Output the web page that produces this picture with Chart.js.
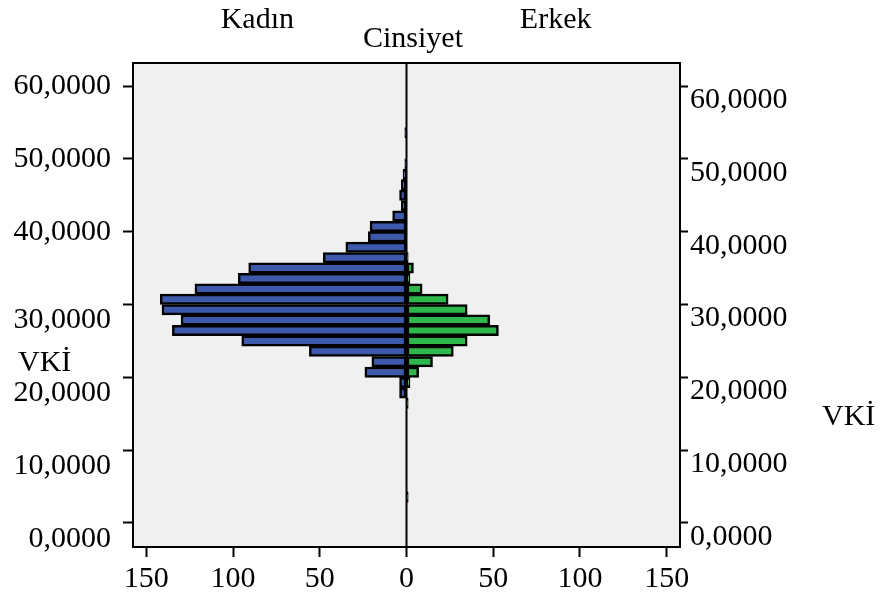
<!DOCTYPE html>
<html>
<head>
<meta charset="utf-8">
<script src="https://cdn.jsdelivr.net/npm/chart.js@4.4.0/dist/chart.umd.min.js"></script>
<style>
  body { margin: 0; background: #fff; }
</style>
</head>
<body>
<canvas id="pyramid" width="880" height="595"></canvas>
<script>
// VKİ bin centres (bin width 10/7)
const binCenters = [3.57, 5.00, 6.43, 7.86, 9.29, 10.71, 12.14, 13.57, 15.00, 16.43,
  17.86, 19.29, 20.71, 22.14, 23.57, 25.00, 26.43, 27.86, 29.29, 30.71,
  32.14, 33.57, 35.00, 36.43, 37.86, 39.29, 40.71, 42.14, 43.57, 45.00,
  46.43, 47.86, 49.29, 50.71, 52.14, 53.57];

const kadin = [0, 0, 0, 0, 0, 0, 0, 0, 0, 0,
  4, 4, 24, 20, 56, 95, 135, 130, 141, 142,
  122, 97, 91, 48, 35, 22, 21, 8, 3, 4,
  3, 2, 1, 0, 0, 1];

const erkek = [1, 0, 0, 0, 0, 0, 0, 0, 0, 1,
  0, 2, 7, 15, 27, 35, 53, 48, 35, 24,
  9, 2, 4, 1, 0, 0, 0, 0, 0, 0,
  0, 0, 0, 0, 0, 0];

const xTickValues = [-150, -100, -50, 0, 50, 100, 150];
const yTickValues = [0, 10, 20, 30, 40, 50, 60];

const blue = '#3d59ab';
const green = '#2eb84c';
const serif = 'Liberation Serif';

Chart.defaults.font.family = serif;
Chart.defaults.color = '#000';

function vkiLabel(v) {
  return v.toFixed(4).replace('.', ',');
}

const frame = {
  id: 'frame',
  beforeDraw(chart) {
    const { ctx, chartArea: a } = chart;
    ctx.save();
    ctx.fillStyle = '#f0f0f0';
    ctx.fillRect(a.left, a.top, a.right - a.left, a.bottom - a.top);
    ctx.restore();
  },
  afterDatasetsDraw(chart) {
    const { ctx, chartArea: a } = chart;
    const x0 = chart.scales.x.getPixelForValue(0);
    ctx.save();
    ctx.strokeStyle = '#000';
    ctx.lineWidth = 2;
    ctx.beginPath();
    ctx.moveTo(x0, a.top);
    ctx.lineTo(x0, a.bottom);
    ctx.stroke();
    ctx.restore();
  },
  afterDraw(chart) {
    const { ctx, chartArea: a } = chart;
    const xs = chart.scales.x;
    ctx.save();
    ctx.strokeStyle = '#000';
    ctx.lineWidth = 2;
    ctx.strokeRect(a.left, a.top, a.right - a.left, a.bottom - a.top);

    ctx.fillStyle = '#000';
    ctx.font = '30px "' + serif + '"';
    ctx.textBaseline = 'alphabetic';
    ctx.textAlign = 'center';
    ctx.fillText('Kadın', xs.getPixelForValue(-86), 28);
    ctx.fillText('Erkek', xs.getPixelForValue(86), 28);
    ctx.fillText('Cinsiyet', 413, 47);
    ctx.textAlign = 'left';
    ctx.fillText('VKİ', 18, 371);
    ctx.fillText('VKİ', 822, 425);
    ctx.restore();
  }
};

const barStyle = {
  borderColor: '#000',
  borderWidth: 2.5,
  borderSkipped: false,
  grouped: false,
  categoryPercentage: 1,
  barPercentage: 1
};

new Chart(document.getElementById('pyramid'), {
  type: 'bar',
  data: {
    datasets: [
      Object.assign({
        label: 'Kadın',
        data: binCenters.map((y, i) => ({ x: kadin[i] ? -kadin[i] : null, y: y })),
        backgroundColor: blue
      }, barStyle),
      Object.assign({
        label: 'Erkek',
        data: binCenters.map((y, i) => ({ x: erkek[i] ? erkek[i] : null, y: y })),
        backgroundColor: green
      }, barStyle)
    ]
  },
  options: {
    indexAxis: 'y',
    responsive: false,
    animation: false,
    layout: { padding: { top: 63, left: 0, right: 0, bottom: 0 } },
    plugins: {
      legend: { display: false },
      tooltip: { enabled: false }
    },
    scales: {
      x: {
        type: 'linear',
        min: -157.7,
        max: 157.7,
        afterBuildTicks: s => { s.ticks = xTickValues.map(v => ({ value: v })); },
        afterFit: s => { s.height = 48; },
        border: { display: false },
        grid: { drawOnChartArea: false, tickLength: 10, tickWidth: 2, tickColor: '#000' },
        ticks: {
          callback: v => Math.abs(v),
          padding: 7,
          color: '#000',
          maxRotation: 0,
          font: { size: 30, lineHeight: 1 }
        }
      },
      y: {
        type: 'linear',
        position: 'left',
        min: -3.3,
        max: 63.16,
        offset: false,
        afterBuildTicks: s => { s.ticks = yTickValues.map(v => ({ value: v })); },
        afterFit: s => { s.width = 133; },
        border: { display: false },
        grid: { offset: false, drawOnChartArea: false, tickLength: 10, tickWidth: 2, tickColor: '#000' },
        ticks: {
          callback: v => v <= 30 ? ['', vkiLabel(v)] : vkiLabel(v),
          padding: 12,
          color: '#000',
          font: { size: 30, lineHeight: 1.05 }
        }
      },
      y2: {
        type: 'linear',
        position: 'right',
        min: -3.3,
        max: 63.16,
        offset: false,
        afterBuildTicks: s => { s.ticks = yTickValues.map(v => ({ value: v })); },
        afterFit: s => { s.width = 200; },
        border: { display: false },
        grid: { offset: false, drawOnChartArea: false, tickLength: 8, tickWidth: 2, tickColor: '#000' },
        ticks: {
          callback: v => vkiLabel(v),
          padding: 2,
          labelOffset: 14,
          color: '#000',
          font: { size: 30, lineHeight: 1 }
        }
      }
    }
  },
  plugins: [frame]
});
</script>
</body>
</html>
